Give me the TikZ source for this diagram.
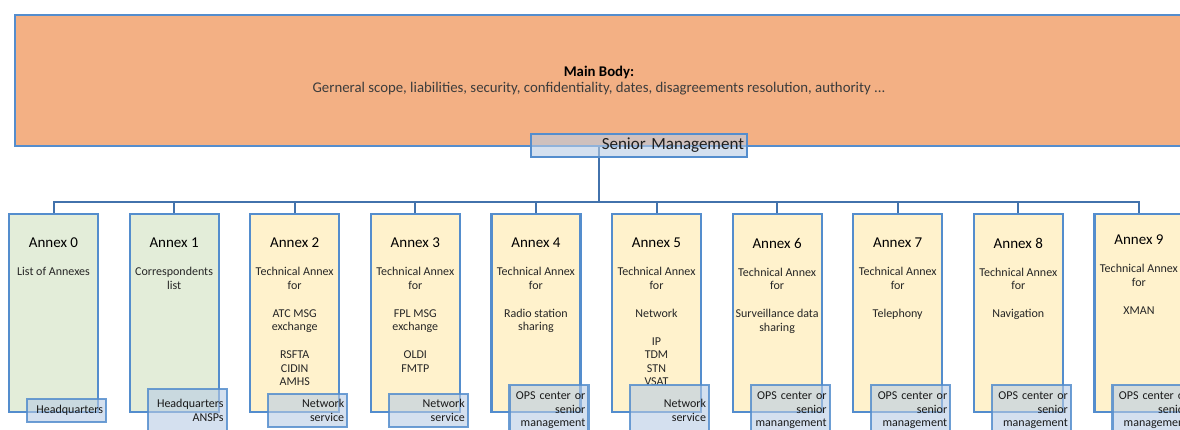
\documentclass[tikz,border=0pt]{standalone}
\usepackage{fontspec}
\setmainfont{Carlito}
\usetikzlibrary{positioning,backgrounds}
\definecolor{mborange}{RGB}{243,176,132}
\definecolor{bdblue}{RGB}{84,141,205}
\definecolor{busblue}{RGB}{66,114,172}
\definecolor{anxgreen}{RGB}{227,237,217}
\definecolor{anxyellow}{RGB}{255,242,204}
\definecolor{tagblue}{RGB}{184,204,228}
\definecolor{bodygray}{RGB}{60,60,60}

\begin{document}
\begin{tikzpicture}[
    x=1pt, y=-1pt,
    mainbox/.style={rectangle, draw=bdblue, line width=2.2pt, fill=mborange, minimum width=1168pt, minimum height=131pt, align=center, font=\fontsize{14.8}{16}\selectfont, text=bodygray},
    mgmtbox/.style={rectangle, draw=bdblue, line width=2.2pt, fill=tagblue, fill opacity=0.6, text opacity=1, inner sep=3pt, minimum width=216pt, minimum height=23pt, text width=210pt, align=right, font=\fontsize{17}{20}\selectfont, text=black!88},
    anxbox/.style={rectangle, draw=bdblue, line width=2.2pt, minimum width=89pt, minimum height=198pt},
    anxtext/.style={inner sep=0pt, align=center, text=black!85, font=\fontsize{12}{13.5}\selectfont},
    tagbox/.style={rectangle, draw=bdblue, draw opacity=0.85, line width=2.2pt, fill=tagblue, fill opacity=0.6, text opacity=1, inner sep=3pt, minimum width=79pt, text width=73pt, align=right, font=\fontsize{12}{13.5}\selectfont, text=black!90},
    link/.style={draw=busblue, line width=2pt},
    node distance=29.4pt
]
  \useasboundingbox (0,0) rectangle (1180,430);
  \clip (0,0) rectangle (1180,430);

  % agreement body and its owner
  \node[mainbox] (main) at (599,80.5) {{\color{black}\textbf{Main Body:}}\\Gerneral scope, liabilities, security, confidentiality, dates, disagreements resolution, authority ...};
  \node[mgmtbox] (sm) at (639,145.5) {Senior Management};
  \coordinate (hub) at (599,202);

  % annex columns
  \node[anxbox, fill=anxgreen] (a0) at (53.5,313) {};
  \node[anxbox, fill=anxgreen, right=of a0] (a1) {};
  \node[anxbox, fill=anxyellow, right=of a1] (a2) {};
  \node[anxbox, fill=anxyellow, right=of a2] (a3) {};
  \node[anxbox, fill=anxyellow, right=of a3] (a4) {};
  \node[anxbox, fill=anxyellow, right=of a4] (a5) {};
  \node[anxbox, fill=anxyellow, right=of a5] (a6) {};
  \node[anxbox, fill=anxyellow, right=of a6] (a7) {};
  \node[anxbox, fill=anxyellow, right=of a7] (a8) {};
  \node[anxbox, fill=anxyellow, right=of a8] (a9) {};

  \node[anxtext, below=25pt of a0.north] (t0) {{\fontsize{15}{15}\selectfont\color{black}Annex 0}\\[14.5pt]List of Annexes};
  \node[anxtext, below=25pt of a1.north] (t1) {{\fontsize{15}{15}\selectfont\color{black}Annex 1}\\[14.5pt]Correspondents\\list};
  \node[anxtext, below=25pt of a2.north] (t2) {{\fontsize{15}{15}\selectfont\color{black}Annex 2}\\[14.5pt]Technical Annex\\for\\[14.5pt]ATC MSG\\exchange\\[14.5pt]RSFTA\\CIDIN\\AMHS};
  \node[anxtext, below=25pt of a3.north] (t3) {{\fontsize{15}{15}\selectfont\color{black}Annex 3}\\[14.5pt]Technical Annex\\for\\[14.5pt]FPL MSG\\exchange\\[14.5pt]OLDI\\FMTP};
  \node[anxtext, below=25pt of a4.north] (t4) {{\fontsize{15}{15}\selectfont\color{black}Annex 4}\\[14.5pt]Technical Annex\\for\\[14.5pt]Radio station\\sharing};
  \node[anxtext, below=25pt of a5.north] (t5) {{\fontsize{15}{15}\selectfont\color{black}Annex 5}\\[14.5pt]Technical Annex\\for\\[14.5pt]Network\\[14.5pt]IP\\TDM\\STN\\VSAT};
  \node[anxtext, below=25pt of a6.north] (t6) {{\fontsize{15}{15}\selectfont\color{black}Annex 6}\\[14.5pt]Technical Annex\\for\\[14.5pt]Surveillance data\\sharing};
  \node[anxtext, below=25pt of a7.north] (t7) {{\fontsize{15}{15}\selectfont\color{black}Annex 7}\\[14.5pt]Technical Annex\\for\\[14.5pt]Telephony};
  \node[anxtext, below=25pt of a8.north] (t8) {{\fontsize{15}{15}\selectfont\color{black}Annex 8}\\[14.5pt]Technical Annex\\for\\[14.5pt]Navigation};
  \node[anxtext, below=22pt of a9.north] (t9) {{\fontsize{15}{15}\selectfont\color{black}Annex 9}\\[14.5pt]Technical Annex\\for\\[14.5pt]XMAN};

  % who is responsible for each annex
  \node[tagbox, anchor=west, xshift=18pt, yshift=2.5pt, minimum height=23pt] (r0) at (a0.south west) {Headquarters};
  \node[tagbox, anchor=west, xshift=18pt, yshift=2.5pt, minimum height=44pt] (r1) at (a1.south west) {Headquarters\\ANSPs};
  \node[tagbox, anchor=west, xshift=18pt, yshift=2.5pt, minimum height=33pt] (r2) at (a2.south west) {Network\\service};
  \node[tagbox, anchor=west, xshift=18pt, yshift=2.5pt, minimum height=33pt] (r3) at (a3.south west) {Network\\service};
  \node[tagbox, anchor=west, xshift=18pt, yshift=2.5pt, minimum height=51pt] (r4) at (a4.south west) {OPS center or\\senior\\management};
  \node[tagbox, anchor=west, xshift=18pt, yshift=2.5pt, minimum height=51pt] (r5) at (a5.south west) {Network\\service};
  \node[tagbox, anchor=west, xshift=18pt, yshift=2.5pt, minimum height=51pt] (r6) at (a6.south west) {OPS center or\\senior\\manangement};
  \node[tagbox, anchor=west, xshift=18pt, yshift=2.5pt, minimum height=51pt] (r7) at (a7.south west) {OPS center or\\senior\\management};
  \node[tagbox, anchor=west, xshift=18pt, yshift=2.5pt, minimum height=51pt] (r8) at (a8.south west) {OPS center or\\senior\\management};
  \node[tagbox, anchor=west, xshift=18pt, yshift=2.5pt, minimum height=51pt] (r9) at (a9.south west) {OPS center or\\senior\\management};

  % tree lines
  \begin{scope}[on background layer]
    \draw[link, line width=2.5pt] (sm.center -| hub) -- (hub);
  \end{scope}
  \draw[link] (hub) -| (a0.north);
  \draw[link] (hub) -| (a1.north);
  \draw[link] (hub) -| (a2.north);
  \draw[link] (hub) -| (a3.north);
  \draw[link] (hub) -| (a4.north);
  \draw[link] (hub) -| (a5.north);
  \draw[link] (hub) -| (a6.north);
  \draw[link] (hub) -| (a7.north);
  \draw[link] (hub) -| (a8.north);
  \draw[link] (hub) -| (a9.north);
\end{tikzpicture}
\end{document}
